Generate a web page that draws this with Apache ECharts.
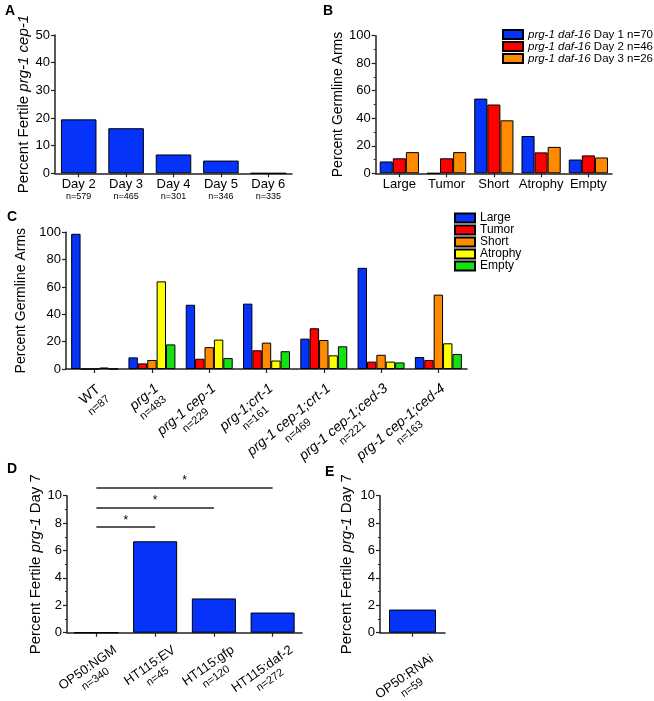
<!DOCTYPE html>
<html>
<head>
<meta charset="utf-8">
<script src="https://cdn.jsdelivr.net/npm/echarts@6/dist/echarts.min.js"></script>
<style>
html,body{margin:0;padding:0;background:#fff;}
#chart{width:654px;height:701px;}
</style>
</head>
<body>
<div id="chart"></div>
<script>
// ---------- Panel A ----------
const aDays = ['Day 2', 'Day 3', 'Day 4', 'Day 5', 'Day 6'];
const aN = [579, 465, 301, 346, 335];
const aFertile = [19.5, 16.3, 6.8, 4.6, 0];
const aTicks = [0, 10, 20, 30, 40, 50];

// ---------- Panel B ----------
const bCats = ['Large', 'Tumor', 'Short', 'Atrophy', 'Empty'];
const bGenotype = 'prg-1 daf-16';
const bDays = ['Day 1', 'Day 2', 'Day 3'];
const bNs = [70, 46, 26];
const bDay1 = [8.6, 0, 54.3, 27.1, 10.0];
const bDay2 = [10.9, 10.9, 50.0, 15.2, 13.0];
const bDay3 = [15.4, 15.4, 38.5, 19.2, 11.5];
const bTicks = [0, 20, 40, 60, 80, 100];

// ---------- Panel C ----------
const cStrains = ['WT', 'prg-1', 'prg-1 cep-1', 'prg-1;crt-1', 'prg-1 cep-1;crt-1', 'prg-1 cep-1;ced-3', 'prg-1 cep-1;ced-4'];
const cN = [87, 483, 229, 161, 469, 221, 163];
const cClasses = ['Large', 'Tumor', 'Short', 'Atrophy', 'Empty'];
const cLarge   = [98.9, 8.5, 47.0, 47.8, 22.2, 74.0, 8.8];
const cTumor   = [0, 4.1, 7.5, 13.7, 29.8, 5.4, 6.6];
const cShort   = [0, 6.6, 16.0, 19.3, 21.2, 10.4, 54.4];
const cAtrophy = [1.1, 64.1, 21.5, 6.2, 10.0, 5.4, 18.8];
const cEmpty   = [0, 18.0, 8.0, 13.0, 16.6, 4.8, 11.0];

// ---------- Panel D ----------
const dCats = ['OP50:NGM', 'HT115:EV', 'HT115:gfp', 'HT115:daf-2'];
const dN = [340, 45, 120, 272];
const dFertile = [0, 6.67, 2.5, 1.47];
const dTicks = [0, 2, 4, 6, 8, 10];
// significance brackets: [from category, to category, height]
const dSig = [[0, 1, 7.7], [0, 2, 9.15], [0, 3, 10.55]];

// ---------- Panel E ----------
const eCats = ['OP50:RNAi'];
const eN = [59];
const eFertile = [1.69];

const FONT = 'Arial, "Liberation Sans", Helvetica, sans-serif';
const AX = '#222';
const colors = ['#0533fa', '#ff0000', '#ff8a00', '#ffff00', '#14e014'];

function yAxis(gi, ticks, name, gap, minor, nameSize) {
  return {
    gridIndex: gi, type: 'value',
    min: ticks[0], max: ticks[ticks.length - 1], interval: ticks[1] - ticks[0],
    name: name, nameLocation: 'middle', nameGap: gap,
    nameTextStyle: { fontSize: nameSize, color: '#000', fontFamily: FONT,
      rich: { i: { fontStyle: 'italic', fontSize: nameSize, color: '#000', fontFamily: FONT } } },
    axisLine: { show: true, lineStyle: { color: AX, width: 1.5 } },
    axisTick: { show: true, length: 4, lineStyle: { color: AX, width: 1.2 } },
    minorTick: { show: minor, splitNumber: 2, length: 2, lineStyle: { color: AX, width: 1 } },
    splitLine: { show: false },
    axisLabel: { fontSize: 13, color: '#000', fontFamily: FONT, margin: 5 }
  };
}
function xAxis(gi, data, label) {
  return {
    gridIndex: gi, type: 'category', data: data,
    axisLine: { show: true, lineStyle: { color: AX, width: 1.5 } },
    axisTick: { show: true, alignWithLabel: true, length: 4, lineStyle: { color: AX, width: 1.2 } },
    axisLabel: Object.assign({ interval: 0, color: '#000', fontFamily: FONT }, label)
  };
}
function bar(gi, name, data, color, extra) {
  return Object.assign({
    type: 'bar', name: name, xAxisIndex: gi, yAxisIndex: gi, data: data,
    barGap: '0%',
    itemStyle: { color: color, borderColor: '#000', borderWidth: 1 },
    emphasis: { disabled: true }, animation: false
  }, extra || {});
}

const bNames = bDays.map((d, i) => bGenotype + ' ' + d + ' n=' + bNs[i]);
const cData = [cLarge, cTumor, cShort, cAtrophy, cEmpty];
const bData = [bDay1, bDay2, bDay3];

function richSet(size) {
  return {
    it: { fontStyle: 'italic', fontSize: size, lineHeight: size + 1, align: 'center', color: '#000', fontFamily: FONT },
    r: { fontSize: size, lineHeight: size + 1, align: 'center', color: '#000', fontFamily: FONT },
    s: { fontSize: 11, lineHeight: 13, align: 'center', color: '#000', fontFamily: FONT }
  };
}
function rotLabel(rot, pad, margin, size, fmt) {
  return { rotate: rot, margin: margin, verticalAlign: 'top', padding: [pad, 0, 0, 0], formatter: fmt, rich: richSet(size) };
}
function grid(left, top, width, height) {
  return { left: left, top: top, width: width, height: height, containLabel: false, outerBoundsMode: 'none' };
}

const option = {
  backgroundColor: '#fff',
  animation: false,
  textStyle: { fontFamily: FONT },
  title: [
    { text: 'A', left: 5, top: 4 },
    { text: 'B', left: 323, top: 4 },
    { text: 'C', left: 7, top: 210 },
    { text: 'D', left: 7, top: 462 },
    { text: 'E', left: 325, top: 465 }
  ].map(t => Object.assign(t, { padding: 0, textStyle: { fontSize: 14, fontWeight: 'bold', color: '#000', fontFamily: FONT } })),
  legend: [
    {
      data: bNames, orient: 'vertical', left: 502, top: 28.5, padding: 0, icon: 'rect',
      itemWidth: 20, itemHeight: 9, itemGap: 0, itemTextGap: 3, selectedMode: false,
      formatter: n => '{i|' + bGenotype + '}' + n.slice(bGenotype.length),
      textStyle: { fontSize: 11.5, lineHeight: 11, color: '#000', fontFamily: FONT,
        rich: { i: { fontStyle: 'italic', fontSize: 11.5, lineHeight: 11, color: '#000', fontFamily: FONT } } }
    },
    {
      data: cClasses, orient: 'vertical', left: 454, top: 212, padding: 0, icon: 'rect',
      itemWidth: 20, itemHeight: 9, itemGap: 0, itemTextGap: 4, selectedMode: false,
      textStyle: { fontSize: 12, lineHeight: 11.3, color: '#000', fontFamily: FONT }
    }
  ],
  grid: [
    grid(55, 35, 237, 138.3),
    grid(375.7, 35.7, 236.3, 137.6),
    grid(66, 232.3, 401, 136.7),
    grid(67, 495.7, 235, 137),
    grid(380, 495.7, 65, 137),
    // overlay grid for the significance brackets in D (range 0..11)
    grid(67, 482, 235, 150.7)
  ],
  xAxis: [
    xAxis(0, aDays, { margin: 4, formatter: (v, i) => '{d|' + v + '}\n{n|n=' + aN[i] + '}',
      rich: { d: { fontSize: 13, lineHeight: 14, align: 'center', color: '#000', fontFamily: FONT },
              n: { fontSize: 9, lineHeight: 11, align: 'center', color: '#000', fontFamily: FONT } } }),
    xAxis(1, bCats, { margin: 5, fontSize: 13 }),
    xAxis(2, cStrains, rotLabel(40, 0, 12, 14,
      (v, i) => (v === 'WT' ? '{r|' + v + '}' : '{it|' + v + '}') + '\n{s|n=' + cN[i] + '}')),
    xAxis(3, dCats, rotLabel(35, 26, -11, 13, (v, i) => '{r|' + v + '}\n{s|n=' + dN[i] + '}')),
    xAxis(4, eCats, rotLabel(35, 27, -3, 13, (v, i) => '{r|' + v + '}\n{s|n=' + eN[i] + '}')),
    { gridIndex: 5, type: 'category', data: dCats, show: false }
  ],
  yAxis: [
    yAxis(0, aTicks, 'Percent Fertile {i|prg-1 cep-1}', 22, false, 15),
    yAxis(1, bTicks, 'Percent Germline Arms', 31, true, 14),
    yAxis(2, bTicks, 'Percent Germline Arms', 29, false, 14),
    yAxis(3, dTicks, 'Percent Fertile {i|prg-1} Day 7', 23, true, 15),
    yAxis(4, dTicks, 'Percent Fertile {i|prg-1} Day 7', 26, true, 15),
    { gridIndex: 5, type: 'value', min: 0, max: 11, show: false, splitLine: { show: false } }
  ],
  series: [
    bar(0, 'A', aFertile, colors[0], { barCategoryGap: '25%' }),
    ...bData.map((d, k) => bar(1, bNames[k], d, colors[k], { barCategoryGap: '17%' })),
    ...cData.map((d, k) => bar(2, cClasses[k], d, colors[k], { barCategoryGap: '18%' })),
    bar(3, 'D', dFertile, colors[0], { barCategoryGap: '25%' }),
    bar(4, 'E', eFertile, colors[0], { barWidth: 47 }),
    {
      type: 'line', name: 'sig', xAxisIndex: 5, yAxisIndex: 5, data: [], silent: true,
      markLine: {
        silent: true, symbol: ['none', 'none'], animation: false,
        lineStyle: { color: AX, width: 1.5, type: 'solid' },
        label: { show: true, position: 'middle', formatter: '*', color: '#000', fontSize: 12, distance: 1 },
        emphasis: { disabled: true },
        data: dSig.map(s => [{ coord: [s[0], s[2]] }, { coord: [s[1], s[2]] }])
      }
    }
  ]
};

const chart = echarts.init(document.getElementById('chart'), null, { renderer: 'canvas' });
chart.setOption(option);
</script>
</body>
</html>
